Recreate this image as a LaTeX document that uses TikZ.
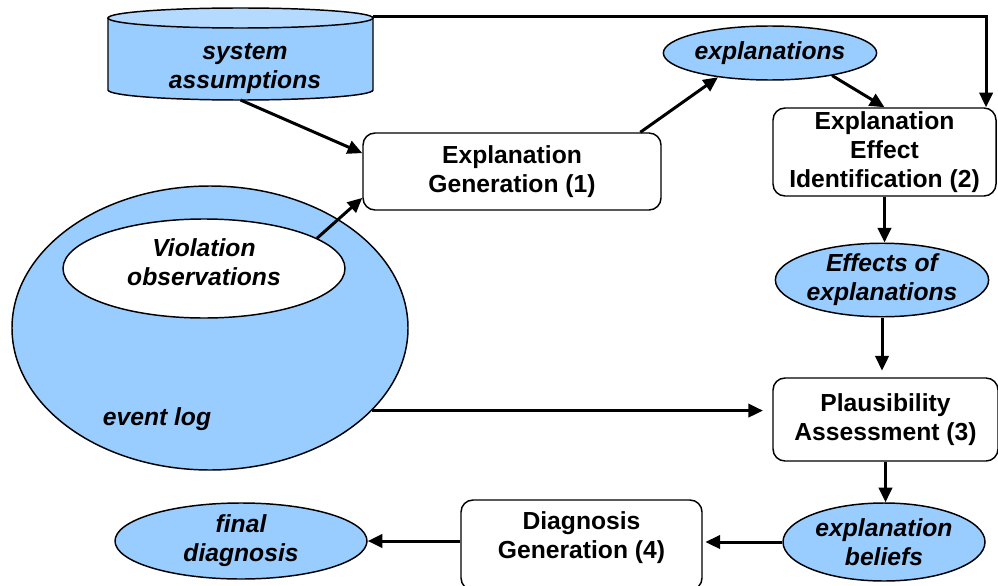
\documentclass[tikz,border=0pt]{standalone}
\usepackage{fontspec}
\setmainfont{Liberation Sans}
\usetikzlibrary{shapes.geometric,arrows.meta}

\definecolor{dataBlue}{RGB}{153,204,255}
\definecolor{capBlue}{RGB}{181,218,255}

\tikzset{every picture/.style={line width=0.75pt}}
\tikzset{
  procBox/.style={draw, rounded corners=9pt, fill=white, line width=1.1pt, align=center, inner sep=0pt,
    font=\bfseries\fontsize{18.5}{21.75}\selectfont},
  dataOval/.style={draw, ellipse, fill=dataBlue, line width=1.1pt, align=center, inner sep=0pt,
    font=\bfseries\itshape\fontsize{18.5}{21.75}\selectfont},
  dataText/.style={align=center, inner sep=0pt, font=\bfseries\itshape\fontsize{18.5}{21.75}\selectfont},
  flow/.style={line width=2.25pt, -{Triangle[length=11pt,width=10pt]}},
}

\begin{document}
\begin{tikzpicture}[x=0.75pt,y=0.75pt,yscale=-1,xscale=1]
\useasboundingbox (0,0) rectangle (998,585);

% event log with the violation observations inside
\node [dataOval, minimum width=297pt, minimum height=213pt] (evLog) at (210,328) {};
\node [dataOval, fill=white, minimum width=211.5pt, minimum height=74.25pt, text depth=10pt] (viol) at (204,268.5) {Violation\\observations};
\node [dataText] (evLogTxt) at (157,419) {event log};

% system assumptions store
\draw [line width=1.1pt, fill=dataBlue] (108,18) -- (108,90) arc [start angle=180, end angle=0, x radius=132.5, y radius=10] -- (373,18) -- cycle;
\draw [line width=1.1pt, fill=capBlue] (240.5,18) ellipse [x radius=132.5, y radius=10];
\node [dataText] (sysAss) at (245,69) {system\\assumptions};
\coordinate (sysBottom) at (240.5,100);
\coordinate (sysRight) at (373,17);

% processing steps
\node [procBox, minimum width=223.5pt, minimum height=57.75pt] (explGen) at (512,171.5) {Explanation\\Generation (1)};
\node [procBox, minimum width=167.25pt, minimum height=66pt] (effIdent) at (884.5,152) {Explanation\\Effect\\Identification (2)};
\node [procBox, minimum width=168.75pt, minimum height=62.25pt] (plausAss) at (885.5,419.5) {Plausibility\\Assessment (3)};
\node [procBox, minimum width=180.75pt, minimum height=67.5pt, text depth=15pt] (diagGen) at (581.5,545) {Diagnosis\\Generation (4)};

% intermediate data
\node [dataOval, minimum width=136.5pt, minimum height=40.5pt] (expls) at (770,53) {explanations};
\node [dataOval, minimum width=132pt, minimum height=54pt] (effects) at (882,280) {Effects of\\explanations};
\node [dataOval, minimum width=151.5pt, minimum height=58.5pt] (beliefs) at (884,542) {explanation\\beliefs};
\node [dataOval, minimum width=189pt, minimum height=57pt] (finalDiag) at (241,541) {final\\diagnosis};

% connectors
\draw [flow] (sysBottom) -- (explGen.173);
\draw [flow] (viol.15) -- (explGen.190);
\draw [flow] (explGen.17) -- (expls.205);
\draw [flow] (expls.-20) -- (effIdent.north);
\draw [flow] (sysRight) -| ([xshift=-8pt]effIdent.north east);
\draw [flow] (effIdent.south) -- (effIdent.south |- effects.north);
\draw [flow, shorten >=5pt] (effects.south) -- (effects.south |- plausAss.north);
\draw [flow, shorten >=7pt] (evLog.-27) -- (evLog.-27 -| plausAss.west);
\draw [flow] (plausAss.south) -- (plausAss.south |- beliefs.north);
\draw [flow, shorten >=2pt] (beliefs.west) -- (beliefs.west -| diagGen.east);
\draw [flow] (finalDiag.east -| diagGen.west) -- (finalDiag.east);

\end{tikzpicture}
\end{document}
